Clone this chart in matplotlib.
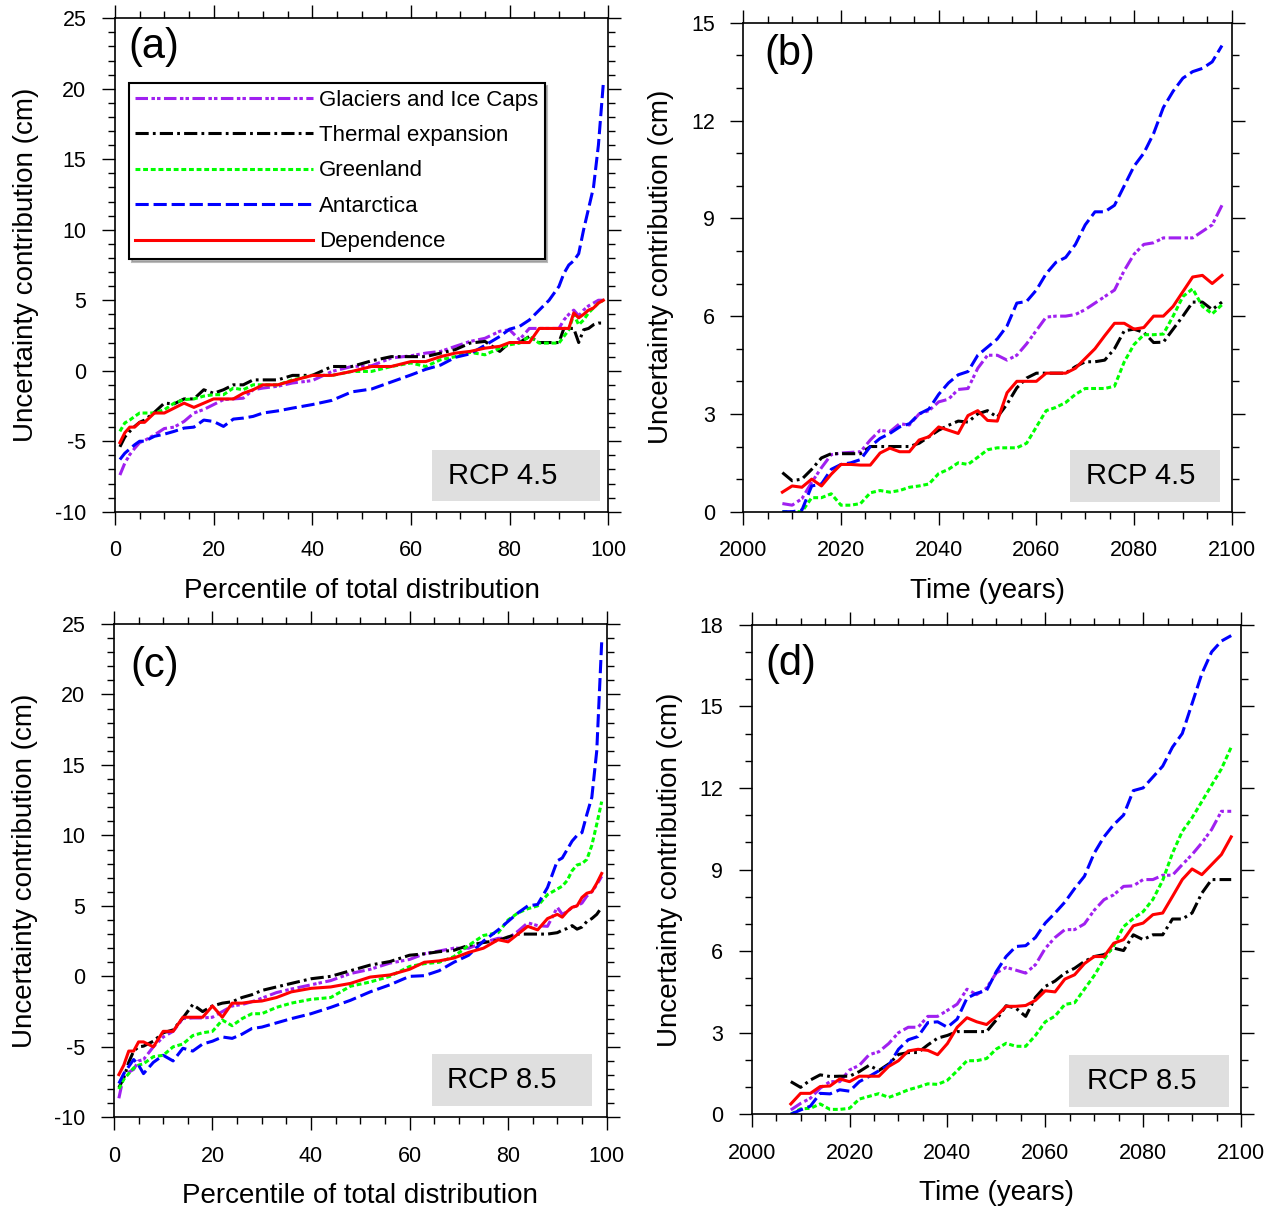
import matplotlib.pyplot as plt
from matplotlib.patches import Rectangle
from matplotlib.ticker import MultipleLocator

plt.rcParams['font.family'] = ['Liberation Sans', 'DejaVu Sans']
plt.rcParams['axes.unicode_minus'] = False
plt.rcParams['lines.scale_dashes'] = False

# ---- data: percentile panels (a) RCP4.5, (c) RCP8.5 ----
pct = [1, 2, 3, 4, 5, 6, 8, 10, 12, 14, 16, 18, 20, 22, 24, 26, 28, 30, 33, 36,
       40, 44, 48, 52, 56, 60, 63, 66, 69, 72, 75, 78, 80, 82, 84, 86, 88, 90,
       91, 92, 93, 94, 95, 96, 97, 98, 99]

glac_a = [-7.4, -6.55, -5.95, -5.5, -5.1, -4.95, -4.55, -4.1, -4.0, -3.6, -3.0, -2.75,
          -2.4, -2.05, -2.0, -1.95, -1.35, -1.23, -1.1, -0.87, -0.7, -0.05, 0.3, 0.35,
          0.9, 1.06, 1.25, 1.37, 1.73, 2.08, 2.3, 2.8, 2.9, 2.2, 3.0, 3.0,
          3.0, 3.0, 3.6, 4.0, 4.3, 3.9, 4.3, 4.6, 4.8, 5.0, 5.0]
therm_a = [-5.4, -4.7, -4.3, -3.95, -3.66, -3.5, -2.95, -2.3, -2.35, -2.0, -2.0, -1.35,
           -1.6, -1.35, -1.0, -1.0, -0.65, -0.65, -0.65, -0.33, -0.33, 0.3, 0.3, 0.7,
           1.0, 1.0, 1.0, 1.25, 1.5, 1.96, 2.08, 1.37, 2.0, 2.0, 2.43, 2.0,
           2.0, 2.0, 3.0, 3.0, 3.0, 2.0, 2.9, 3.0, 3.26, 3.38, 3.38]
green_a = [-4.3, -3.7, -3.5, -3.24, -3.0, -3.0, -3.0, -2.77, -2.3, -2.05, -2.0, -1.8,
           -1.7, -1.7, -1.23, -1.35, -1.0, -1.0, -1.0, -0.65, -0.33, -0.33, -0.05, -0.05,
           0.3, 0.55, 0.3, 0.78, 1.0, 1.3, 1.13, 1.6, 1.84, 1.96, 2.43, 1.96,
           1.96, 1.96, 2.43, 2.9, 4.0, 3.26, 3.6, 4.1, 4.45, 4.8, 5.0]
anta_a = [-6.3, -5.85, -5.55, -5.25, -5.0, -5.0, -4.65, -4.5, -4.3, -4.07, -4.0, -3.5,
          -3.6, -3.95, -3.43, -3.36, -3.24, -3.0, -2.85, -2.65, -2.4, -2.1, -1.5, -1.3,
          -0.8, -0.3, 0.1, 0.4, 0.95, 1.2, 1.8, 2.43, 2.95, 3.14, 3.6, 4.3,
          5.0, 5.98, 6.9, 7.5, 7.8, 8.3, 10.0, 11.5, 13.0, 16.0, 20.4]
dep_a = [-5.1, -4.4, -4.0, -4.0, -3.66, -3.66, -3.0, -3.0, -2.65, -2.3, -2.6, -2.3,
         -2.0, -2.0, -2.0, -1.6, -1.35, -1.0, -1.0, -0.7, -0.33, -0.33, -0.05, 0.3,
         0.3, 0.65, 0.65, 1.0, 1.25, 1.37, 1.6, 1.73, 2.0, 2.0, 2.0, 3.0,
         3.0, 3.0, 3.0, 3.0, 4.1, 3.75, 4.0, 4.3, 4.45, 4.8, 5.0]

glac_c = [-8.65, -7.0, -6.8, -6.6, -6.0, -5.9, -5.0, -4.3, -3.9, -3.0, -2.95, -2.95,
          -2.9, -2.5, -2.1, -2.0, -1.8, -1.55, -1.15, -0.9, -0.6, -0.3, 0.2, 0.5,
          0.94, 1.2, 1.6, 1.8, 2.0, 2.0, 2.4, 2.7, 2.7, 3.2, 3.8, 3.6,
          3.55, 4.9, 4.4, 4.6, 4.9, 5.0, 5.2, 5.7, 6.0, 6.5, 7.1]
therm_c = [-7.9, -7.2, -6.1, -5.3, -5.0, -4.95, -4.6, -4.0, -3.8, -2.95, -2.0, -2.5,
           -2.1, -1.9, -1.8, -1.5, -1.3, -1.0, -0.75, -0.5, -0.17, 0.0, 0.4, 0.8,
           1.05, 1.5, 1.6, 1.75, 1.85, 2.2, 2.4, 2.55, 2.8, 3.0, 3.0, 3.0,
           3.0, 3.1, 3.28, 3.4, 3.6, 3.35, 3.5, 3.9, 4.1, 4.4, 4.9]
green_c = [-8.0, -7.3, -6.9, -6.5, -6.3, -6.2, -5.7, -5.6, -5.0, -4.8, -4.2, -4.0,
           -3.9, -3.1, -3.5, -3.0, -2.65, -2.65, -2.2, -1.9, -1.63, -1.5, -0.7, -0.4,
           0.0, 0.7, 0.9, 1.0, 1.4, 2.2, 2.9, 3.1, 4.0, 4.5, 4.8, 5.0,
           5.8, 6.2, 6.4, 6.8, 7.5, 7.9, 8.0, 8.3, 9.3, 10.8, 12.4]
anta_c = [-7.6, -6.9, -6.4, -5.9, -6.3, -6.9, -6.1, -5.6, -6.0, -5.1, -5.3, -4.8,
          -4.6, -4.3, -4.4, -4.1, -3.7, -3.6, -3.3, -3.0, -2.65, -2.2, -1.7, -1.1,
          -0.6, 0.0, 0.05, 0.4, 1.0, 1.5, 2.5, 3.3, 3.9, 4.5, 5.0, 5.1,
          6.3, 8.2, 8.4, 9.0, 9.6, 10.0, 10.2, 11.5, 12.7, 16.0, 23.7]
dep_c = [-6.97, -6.3, -5.3, -5.3, -4.65, -4.65, -5.0, -3.9, -3.9, -2.9, -2.9, -2.9,
         -2.1, -2.9, -1.9, -1.9, -1.8, -1.75, -1.5, -1.1, -0.85, -0.75, -0.5, -0.05,
         0.1, 0.5, 1.0, 1.1, 1.3, 1.7, 2.0, 2.6, 2.45, 3.0, 3.55, 3.3,
         4.1, 4.4, 4.2, 4.6, 4.9, 5.0, 5.6, 5.9, 6.0, 6.6, 7.3]

# ---- data: time panels (b) RCP4.5, (d) RCP8.5 ----
years = list(range(2008, 2099, 2))

glac_b = [0.25, 0.2, 0.4, 0.9, 1.35, 1.75, 1.8, 1.82, 1.84, 2.2, 2.5, 2.45, 2.7, 2.66,
          3.0, 3.1, 3.37, 3.45, 3.75, 3.78, 4.4, 4.8, 4.8, 4.65, 4.8, 5.15, 5.56,
          5.97, 6.0, 6.0, 6.05, 6.2, 6.4, 6.6, 6.8, 7.4, 7.9, 8.2, 8.25, 8.4, 8.4,
          8.4, 8.4, 8.6, 8.8, 9.4]
therm_b = [1.2, 0.95, 1.0, 1.3, 1.65, 1.78, 1.78, 1.78, 1.78, 2.0, 2.0, 2.0, 2.0, 2.0,
           2.1, 2.3, 2.5, 2.65, 2.78, 2.75, 3.0, 3.1, 2.9, 3.3, 3.8, 4.1, 4.25, 4.25,
           4.25, 4.25, 4.45, 4.6, 4.6, 4.65, 5.0, 5.55, 5.6, 5.5, 5.19, 5.2, 5.6, 6.0,
           6.43, 6.43, 6.2, 6.43]
green_b = [0.0, 0.0, 0.0, 0.43, 0.43, 0.55, 0.2, 0.2, 0.25, 0.58, 0.65, 0.6, 0.65, 0.75,
           0.79, 0.85, 1.17, 1.3, 1.5, 1.45, 1.67, 1.9, 1.96, 1.96, 1.96, 2.1, 2.6, 3.1,
           3.2, 3.35, 3.6, 3.78, 3.78, 3.78, 3.85, 4.6, 5.13, 5.43, 5.43, 5.45, 6.0,
           6.6, 6.84, 6.3, 6.07, 6.35]
anta_b = [0.0, 0.0, 0.05, 0.79, 0.85, 1.3, 1.45, 1.5, 1.6, 2.0, 2.25, 2.4, 2.6, 2.7,
          3.0, 3.15, 3.6, 3.95, 4.2, 4.3, 4.8, 5.05, 5.3, 5.7, 6.4, 6.45, 6.8, 7.3,
          7.65, 7.8, 8.2, 8.8, 9.2, 9.2, 9.4, 10.0, 10.6, 11.0, 11.6, 12.4, 12.9,
          13.3, 13.5, 13.6, 13.8, 14.3]
dep_b = [0.6, 0.79, 0.75, 1.0, 0.79, 1.15, 1.45, 1.45, 1.43, 1.43, 1.8, 1.95, 1.84,
         1.84, 2.2, 2.3, 2.6, 2.5, 2.4, 2.95, 3.1, 2.8, 2.78, 3.65, 4.0, 4.0, 4.0,
         4.25, 4.25, 4.25, 4.4, 4.7, 5.0, 5.4, 5.78, 5.78, 5.6, 5.65, 6.0, 6.0, 6.3,
         6.75, 7.2, 7.25, 7.0, 7.25]

glac_d = [0.16, 0.4, 0.59, 0.96, 1.2, 1.2, 1.63, 1.8, 2.19, 2.3, 2.6, 3.0, 3.2, 3.2,
          3.6, 3.6, 3.82, 4.05, 4.6, 4.4, 4.64, 5.2, 5.4, 5.3, 5.19, 5.5, 6.1, 6.5,
          6.79, 6.79, 7.0, 7.5, 7.89, 8.07, 8.38, 8.4, 8.63, 8.63, 8.79, 8.79, 9.18,
          9.55, 9.98, 10.47, 11.14, 11.14]
therm_d = [1.2, 0.99, 1.26, 1.45, 1.39, 1.4, 1.4, 1.57, 1.8, 1.61, 1.85, 2.2, 2.27,
           2.27, 2.55, 2.8, 2.9, 3.04, 3.04, 3.04, 3.04, 3.47, 3.99, 3.9, 3.6, 4.3,
           4.7, 4.9, 5.19, 5.37, 5.62, 5.8, 5.87, 6.11, 6.02, 6.6, 6.42, 6.6, 6.6,
           7.18, 7.18, 7.4, 8.13, 8.63, 8.63, 8.63]
green_d = [0.0, 0.2, 0.22, 0.38, 0.18, 0.18, 0.22, 0.56, 0.66, 0.76, 0.62, 0.75, 0.9,
           1.0, 1.12, 1.1, 1.25, 1.6, 1.97, 1.97, 2.05, 2.4, 2.61, 2.5, 2.5, 2.9, 3.4,
           3.61, 4.04, 4.1, 4.6, 5.1, 5.7, 6.2, 6.9, 7.2, 7.45, 7.9, 8.6, 9.6, 10.4,
           10.9, 11.5, 12.1, 12.7, 13.5]
anta_d = [0.0, 0.16, 0.3, 0.77, 0.75, 0.9, 0.85, 1.2, 1.39, 1.6, 1.8, 2.39, 2.74, 2.86,
          3.37, 3.4, 3.2, 3.5, 4.27, 4.45, 4.55, 5.25, 5.8, 6.17, 6.2, 6.5, 7.03, 7.4,
          7.8, 8.3, 8.75, 9.6, 10.2, 10.65, 11.0, 11.9, 12.0, 12.4, 12.8, 13.5, 14.0,
          15.1, 16.2, 17.0, 17.4, 17.6]
dep_d = [0.38, 0.77, 0.77, 1.02, 1.04, 1.3, 1.2, 1.4, 1.4, 1.4, 1.76, 1.97, 2.33,
         2.39, 2.35, 2.19, 2.6, 3.2, 3.55, 3.4, 3.3, 3.6, 3.97, 3.97, 4.0, 4.19, 4.54,
         4.5, 4.97, 5.13, 5.54, 5.8, 5.8, 6.29, 6.42, 6.93, 7.03, 7.34, 7.4, 8.01,
         8.63, 9.02, 8.81, 9.18, 9.55, 10.2]

labels = ['Glaciers and Ice Caps', 'Thermal expansion', 'Greenland', 'Antarctica', 'Dependence']
styles = [
    dict(color='#A020F0', dashes=(9, 2.5, 2.5, 1.5, 2.5, 2.5)),
    dict(color='black', dashes=(9.5, 3, 2, 3)),
    dict(color='#00FF00', dashes=(3.5, 2)),
    dict(color='#0000FF', dashes=(9.5, 3.5)),
    dict(color='#FF0000', linestyle='-'),
]

panels = [
    dict(pos=[0.0894, 0.5771, 0.3836, 0.4078], x=pct,
         series=[glac_a, therm_a, green_a, anta_a, dep_a],
         xlim=(0, 100), ylim=(-10, 25), ymaj=5, ymin=1, xmaj=20, xmin=5,
         xlabel='Percentile of total distribution', tag='(a)', tagpos=(0.028, 0.942),
         rcp='RCP 4.5', box=(0.642, 0.021, 0.342, 0.1045), textx=0.675),
    dict(pos=[0.5780, 0.5771, 0.3798, 0.4041], x=years,
         series=[glac_b, therm_b, green_b, anta_b, dep_b],
         xlim=(2000, 2100), ylim=(0, 15), ymaj=3, ymin=1, xmaj=20, xmin=5,
         xlabel='Time (years)', tag='(b)', tagpos=(0.043, 0.936),
         rcp='RCP 4.5', box=(0.669, 0.020, 0.306, 0.106), textx=0.701),
    dict(pos=[0.0886, 0.0766, 0.3831, 0.4077], x=pct,
         series=[glac_c, therm_c, green_c, anta_c, dep_c],
         xlim=(0, 100), ylim=(-10, 25), ymaj=5, ymin=1, xmaj=20, xmin=5,
         xlabel='Percentile of total distribution', tag='(c)', tagpos=(0.033, 0.915),
         rcp='RCP 8.5', box=(0.646, 0.023, 0.324, 0.1045), textx=0.676),
    dict(pos=[0.5845, 0.0791, 0.3805, 0.4046], x=years,
         series=[glac_d, therm_d, green_d, anta_d, dep_d],
         xlim=(2000, 2100), ylim=(0, 18), ymaj=3, ymin=1, xmaj=20, xmin=5,
         xlabel='Time (years)', tag='(d)', tagpos=(0.029, 0.919),
         rcp='RCP 8.5', box=(0.649, 0.0155, 0.327, 0.1055), textx=0.686),
]

fig = plt.figure(figsize=(12.86, 12.10), dpi=100)

for i, p in enumerate(panels):
    ax = fig.add_axes(p['pos'])
    handles = []
    for vals, st in zip(p['series'], styles):
        line, = ax.plot(p['x'], vals, linewidth=2.2, **st)
        handles.append(line)

    ax.set_xlim(*p['xlim'])
    ax.set_ylim(*p['ylim'])
    ax.xaxis.set_major_locator(MultipleLocator(p['xmaj']))
    ax.xaxis.set_minor_locator(MultipleLocator(p['xmin']))
    ax.yaxis.set_major_locator(MultipleLocator(p['ymaj']))
    ax.yaxis.set_minor_locator(MultipleLocator(p['ymin']))
    ax.tick_params(which='both', direction='out', top=True, right=True,
                   labelsize=15.5, width=1.0, pad=11)
    ax.tick_params(which='major', length=9.5)
    ax.tick_params(which='minor', length=5)
    for s in ax.spines.values():
        s.set_linewidth(1.2)

    ax.set_xlabel(p['xlabel'], fontsize=20, labelpad=12)
    ax.set_ylabel('Uncertainty contribution (cm)', fontsize=20, labelpad=12)

    ax.text(p['tagpos'][0], p['tagpos'][1], p['tag'], transform=ax.transAxes,
            fontsize=30, ha='left', va='center')

    bx, by, bw, bh = p['box']
    ax.add_patch(Rectangle((bx, by), bw, bh, transform=ax.transAxes,
                           facecolor='#DFDFDF', edgecolor='none', zorder=1))
    ax.text(p['textx'], by + bh / 2, p['rcp'], transform=ax.transAxes,
            fontsize=21, ha='left', va='center', zorder=2)

    if i == 0:
        leg = ax.legend(handles, labels, loc='upper left', bbox_to_anchor=(0.028, 0.869),
                        borderaxespad=0, fontsize=16, handlelength=8.0,
                        handletextpad=0.25, labelspacing=0.65, borderpad=0.3,
                        fancybox=False, framealpha=1, edgecolor='black',
                        shadow={'color': '0.55', 'alpha': 0.6})
        leg.get_frame().set_linewidth(1.5)

fig.savefig('out.png', dpi=100)
